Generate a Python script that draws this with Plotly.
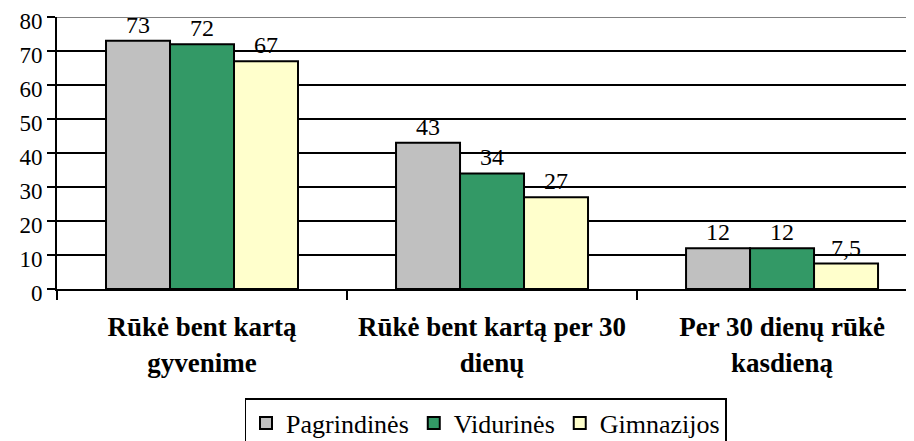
import plotly.graph_objects as go

categories = ["Rūkė bent kartą<br>gyvenime", "Rūkė bent kartą per 30<br>dienų", "Per 30 dienų rūkė<br>kasdieną"]
series_names = ["Pagrindinės", "Vidurinės", "Gimnazijos"]
pagrindines = [73, 43, 12]
vidurines = [72, 34, 12]
gimnazijos = [67, 27, 7.5]
pagrindines_text = ["73", "43", "12"]
vidurines_text = ["72", "34", "12"]
gimnazijos_text = ["67", "27", "7,5"]
y_ticks = [0, 10, 20, 30, 40, 50, 60, 70, 80]

colors = ["#C0C0C0", "#339966", "#FFFFCC"]
serif = "Times New Roman, Liberation Serif, DejaVu Serif, serif"

fig = go.Figure()
for name, vals, txt, col in zip(series_names,
                                [pagrindines, vidurines, gimnazijos],
                                [pagrindines_text, vidurines_text, gimnazijos_text],
                                colors):
    fig.add_trace(go.Bar(
        x=categories, y=vals, name=name, text=txt,
        textposition="outside", cliponaxis=False,
        textfont=dict(family=serif, size=24, color="black"),
        marker=dict(color=col, line=dict(color="black", width=2)),
    ))

fig.update_layout(
    width=906, height=433,
    margin=dict(l=49, r=0, t=9, b=152),
    paper_bgcolor="white", plot_bgcolor="white",
    barmode="group", bargap=0.338, bargroupgap=0,
    font=dict(family=serif, color="black"),
    showlegend=True,
    legend=dict(orientation="h", x=0.5, xanchor="center",
                yref="container", y=0.099, yanchor="top",
                bordercolor="black", borderwidth=1.5, bgcolor="white",
                font=dict(family=serif, size=26, color="black"),
                itemwidth=30, tracegroupgap=0),
)
fig.update_yaxes(
    range=[0, 80], tickvals=y_ticks, ticktext=[str(v) for v in y_ticks],
    showgrid=True, gridcolor="black", gridwidth=1.5,
    showline=True, linecolor="black", linewidth=2,
    ticks="outside", ticklen=8, tickcolor="black", tickwidth=2,
    tickfont=dict(family=serif, size=23, color="black"),
    ticklabelshift=4,
    ticklabeloverflow="allow", automargin=False,
    zeroline=False,
)
fig.update_xaxes(
    type="category", range=[-0.5, 2.455],
    showline=True, linecolor="black", linewidth=2,
    tickson="boundaries", ticks="outside", ticklen=9, tickcolor="black", tickwidth=2,
    tickfont=dict(family=serif, size=27, color="black"),
    ticklabelstandoff=13, automargin=False,
    showgrid=False,
    tickvals=categories,
    ticktext=["<b>" + c.replace("<br>", "</b><br><b>") + "</b>" for c in categories],
)
fig.add_shape(type="line", xref="paper", yref="y", x0=0, x1=1, y0=80, y1=80,
              line=dict(color="#808080", width=2))

fig.write_html("out.html")
